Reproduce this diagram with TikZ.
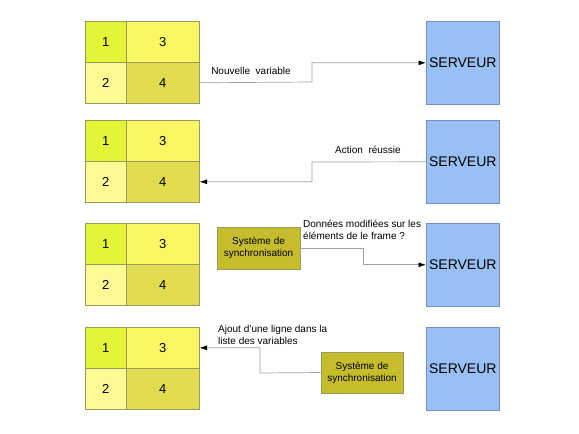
\documentclass[tikz,border=0pt]{standalone}
\usepackage{fontspec}
\setmainfont{Liberation Sans}
\usetikzlibrary{arrows.meta}
\definecolor{cA}{HTML}{E4F436}
\definecolor{cB}{HTML}{FAF765}
\definecolor{cC}{HTML}{FDF993}
\definecolor{cD}{HTML}{E0DC4E}
\definecolor{syncc}{HTML}{C5BD2C}
\definecolor{servc}{HTML}{99C0F5}
\definecolor{servb}{HTML}{7391C4}
\definecolor{cellb}{HTML}{9A9A60}
\definecolor{linec}{HTML}{A0A0A0}
\tikzset{
  cellbox/.style={draw=cellb, line width=0.6pt, inner sep=0pt, font=\fontsize{13}{15}\selectfont, anchor=north west},
  cone/.style={cellbox, fill=cA, minimum width=41pt, minimum height=41pt},
  cthree/.style={cellbox, fill=cB, minimum width=73pt, minimum height=41pt},
  ctwo/.style={cellbox, fill=cC, minimum width=41pt, minimum height=41pt},
  cfour/.style={cellbox, fill=cD, minimum width=73pt, minimum height=41pt},
  server/.style={draw=servb, fill=servc, line width=0.6pt, minimum width=73pt, minimum height=83pt, inner sep=0pt, anchor=north west, font=\fontsize{14}{16}\selectfont},
  syncbox/.style={draw=cellb, fill=syncc, line width=0.6pt, inner sep=0pt, align=center, font=\fontsize{10}{12}\selectfont},
  conn/.style={draw=linec, line width=0.7pt},
  arr/.style={conn, -{Latex[length=7.5pt,width=5pt,color=black]}},
  lbl/.style={font=\fontsize{10}{11.5}\selectfont, inner sep=0pt, align=left}
}
\begin{document}
\begin{tikzpicture}[x=1pt,y=-1pt]
\useasboundingbox (0,0) rectangle (579,434);
% blocks
\foreach \k/\t in {1/21,2/120,3/223,4/327}{
  \node[cone]   (b\k c1) at (85,\t) {1};
  \node[cthree] (b\k c3) at (126,\t) {3};
  \node[ctwo]   (b\k c2) at (85,\t+41) {2};
  \node[cfour]  (b\k c4) at (126,\t+41) {4};
  \node[server] (s\k) at (426,\t) {SERVEUR};
}
% sync boxes
\node[syncbox, minimum width=83pt, minimum height=42pt] (y3) at (258.5,248) {Système de\\synchronisation};
\node[syncbox, minimum width=82pt, minimum height=41pt] (y4) at (362,372.5) {Système de\\synchronisation};
% bends
\coordinate (k1) at (312,82);
\coordinate (k2) at (312,162);
\coordinate (k3) at (363,248);
\coordinate (k4) at (260,373);
% connectors
\draw[arr] (b1c4.east) -- (k1) |- (s1.west);
\draw[arr] (s2.west) -- (k2) |- (b2c4.east);
\draw[arr] (y3.east) -- (k3) |- (s3.west);
\draw[arr] (y4.west) -- (k4) |- (b4c3.east);
% labels
\node[lbl] (l1) at (251,71) {Nouvelle\ \ variable};
\node[lbl] (l2) at (368,150) {Action\ \ réussie};
\node[lbl, anchor=west] (l3) at (303,230) {Données modifiées sur les\\éléments de le frame ?};
\node[lbl, anchor=west] (l4) at (218,335) {Ajout d'une ligne dans la\\liste des variables};
\end{tikzpicture}
\end{document}
